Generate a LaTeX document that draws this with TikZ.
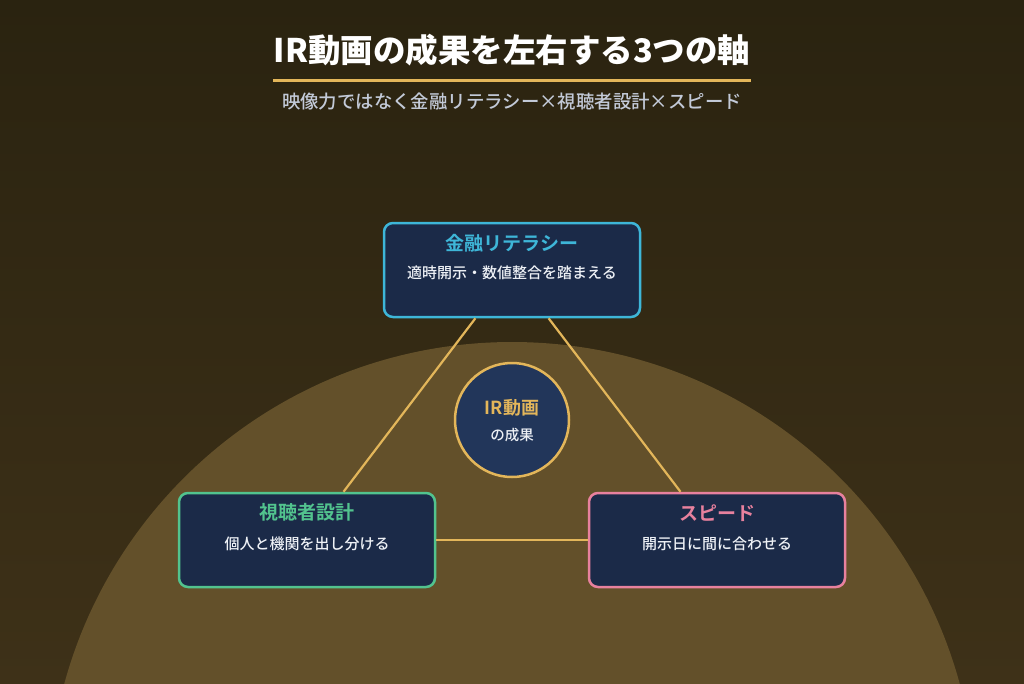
\documentclass[tikz,border=0pt]{standalone}
\usepackage{fontspec}
\setmainfont{Noto Sans CJK JP}[BoldFont={Noto Sans CJK JP Bold}]
\newfontfamily\heavyfont{Noto Sans CJK JP Black}
\newfontfamily\mediumfont{Noto Sans CJK JP Medium}
\usepackage{tikz}
\usetikzlibrary{shapes, positioning, calc}
\definecolor{bgtop}{HTML}{2A2310}
\definecolor{bgbottom}{HTML}{3E3118}
\definecolor{glow}{HTML}{63502A}
\definecolor{gold}{HTML}{E3B65A}
\definecolor{navy}{HTML}{1B2A48}
\definecolor{hubnavy}{HTML}{22365A}
\definecolor{litcyan}{HTML}{3EB6D8}
\definecolor{viewgreen}{HTML}{52C38E}
\definecolor{speedpink}{HTML}{E8819E}
\definecolor{subgray}{HTML}{C3CAD8}
\definecolor{paper}{HTML}{EEF1F6}

\begin{document}
\begin{tikzpicture}[x=1pt, y=-1pt,
    axis/.style={rectangle,
      draw=#1,
      line width=2.5pt,
      fill=navy,
      rounded corners=9pt,
      minimum width=256pt,
      minimum height=94pt},
    axistitle/.style={text=#1,
      font=\fontsize{19}{21}\selectfont\bfseries},
    axistext/.style={text=paper,
      font=\fontsize{15}{17}\selectfont\mediumfont},
    link/.style={draw=gold, line width=2.2pt}]

  % BACKGROUND

  \useasboundingbox (0,0) rectangle (1024,683);
  \fill[top color=bgtop, bottom color=bgbottom] (0,0) rectangle (1024,683);
  \clip (0,0) rectangle (1024,683);
  \fill[glow] (512,806) circle (464);

  % HEADER

  \node[text=white, font=\fontsize{32.5}{36}\selectfont\heavyfont]
    (title) at (512,50) {IR動画の成果を左右する3つの軸};
  \coordinate (ruleleft) at (273,80);
  \coordinate (ruleright) at (751,80);
  \draw[gold, line width=3pt] (ruleleft) -- (ruleright);
  \node[text=subgray, font=\fontsize{18.4}{21}\selectfont\mediumfont]
    (subtitle) at (512,102) {映像力ではなく金融リテラシー×視聴者設計×スピード};

  % AXES

  \node[axis=litcyan] (lit) at (512,270) {};
  \node[axis=viewgreen] (view) at (307,540) {};
  \node[axis=speedpink] (speed) at (717,540) {};

  \draw[link] (lit) -- (view);
  \draw[link] (lit) -- (speed);
  \draw[link] (view) -- (speed);

  \node[axistitle=litcyan, below=21pt of lit.north, anchor=center]
    (littitle) {金融リテラシー};
  \node[axistext, below=51pt of lit.north, anchor=center]
    (littext) {適時開示・数値整合を踏まえる};

  \node[axistitle=viewgreen, below=21pt of view.north, anchor=center]
    (viewtitle) {視聴者設計};
  \node[axistext, below=52pt of view.north, anchor=center]
    (viewtext) {個人と機関を出し分ける};

  \node[axistitle=speedpink, below=21pt of speed.north, anchor=center]
    (speedtitle) {スピード};
  \node[axistext, below=52pt of speed.north, anchor=center]
    (speedtext) {開示日に間に合わせる};

  % HUB

  \node[circle, draw=gold, line width=2.5pt, fill=hubnavy,
    minimum size=114pt] (hub) at (512,420) {};
  \node[text=gold, font=\fontsize{18}{20}\selectfont\bfseries]
    (hubtitle) at (512,408) {IR動画};
  \node[text=paper, font=\fontsize{14.5}{16}\selectfont\mediumfont]
    (hubtext) at (512,435) {の成果};

\end{tikzpicture}
\end{document}
